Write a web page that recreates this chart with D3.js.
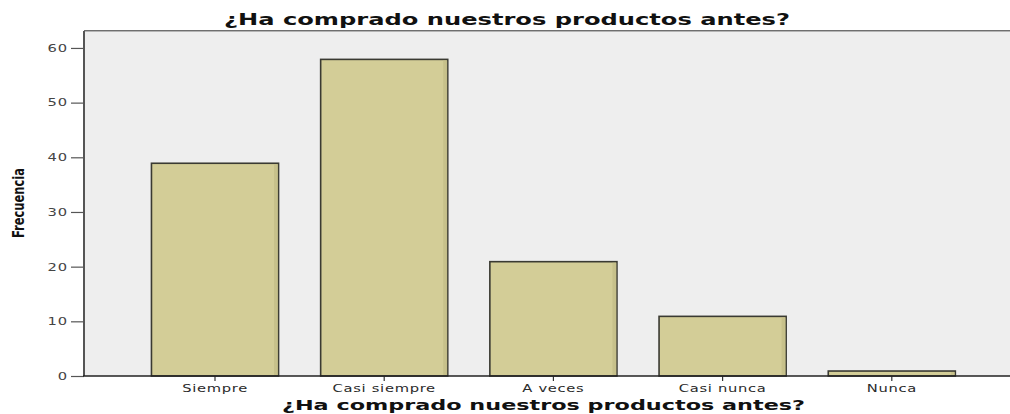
<!DOCTYPE html>
<html>
<head>
<meta charset="utf-8">
<script src="https://cdn.jsdelivr.net/npm/d3@7"></script>
<style>
  html, body { margin: 0; padding: 0; background: #eeeeee; overflow: hidden; }
  svg { display: block; }
</style>
</head>
<body>
<svg id="chart" width="1010" height="414"></svg>
<script>
const categories = ["Siempre", "Casi siempre", "A veces", "Casi nunca", "Nunca"];
const frecuencia = [39, 58, 21, 11, 1];
const yTicks = [0, 10, 20, 30, 40, 50, 60];
const titleText = "¿Ha comprado nuestros productos antes?";
const yLabel = "Frecuencia";

const svg = d3.select("#chart");
const W = 1010, H = 414;
const plot = { left: 84, right: W, top: 31, bottom: 376 };
const stretch = 1.4; // horizontal stretch of small labels

const x = d3.scaleBand()
  .domain(categories)
  .range([130.4, 976.4])
  .paddingInner(0.243)
  .paddingOuter(0.1215);

const y = d3.scaleLinear()
  .domain([0, 63.1])
  .range([plot.bottom, plot.top]);

// page background (white outside the plot)
svg.append("rect").attr("x", 0).attr("y", 0).attr("width", W).attr("height", H).attr("fill", "#ffffff");

// plot background
svg.append("rect")
  .attr("x", plot.left).attr("y", plot.top)
  .attr("width", plot.right - plot.left).attr("height", plot.bottom - plot.top)
  .attr("fill", "#eeeeee");

// top border (double gray line)
svg.append("line")
  .attr("x1", plot.left).attr("x2", plot.right)
  .attr("y1", plot.top - 0.5).attr("y2", plot.top - 0.5)
  .attr("stroke", "#6e6e6e").attr("stroke-width", 1);
svg.append("line")
  .attr("x1", plot.left).attr("x2", plot.right)
  .attr("y1", plot.top + 0.5).attr("y2", plot.top + 0.5)
  .attr("stroke", "#b4b4b4").attr("stroke-width", 1);

const barData = categories.map((c, i) => ({ c, v: frecuencia[i] }));

// bars
svg.append("g").selectAll("rect")
  .data(barData)
  .join("rect")
  .attr("x", d => x(d.c) + 0.5)
  .attr("y", d => y(d.v) + 0.5)
  .attr("width", x.bandwidth() - 1)
  .attr("height", d => y(0) - y(d.v) - 0.5)
  .attr("fill", "#d3cd97")
  .attr("stroke", "#3a3a32")
  .attr("stroke-width", 1.6);

// subtle darker shading along right inner edge of bars
svg.append("g").selectAll("rect")
  .data(barData)
  .join("rect")
  .attr("x", d => x(d.c) + x.bandwidth() - 5)
  .attr("y", d => y(d.v) + 1.5)
  .attr("width", 4)
  .attr("height", d => Math.max(0, y(0) - y(d.v) - 2.5))
  .attr("fill", "#c2bc86")
  .attr("opacity", 0.7);

// y axis
const yAxis = d3.axisLeft(y).tickValues(yTicks).tickSize(13).tickPadding(3).tickFormat(d3.format("d"));
const gy = svg.append("g").attr("transform", `translate(${plot.left},0)`).call(yAxis);
gy.select(".domain").remove();
gy.selectAll(".tick line").attr("stroke", "#555").attr("stroke-width", 1.2);
gy.selectAll(".tick text")
  .attr("fill", "#444")
  .attr("x", -16 / stretch)
  .attr("transform", `scale(${stretch},1)`)
  .style("font-family", "'DejaVu Sans', Verdana, sans-serif")
  .style("font-size", "10.5px")
  .style("letter-spacing", "0.6px");
svg.append("line")
  .attr("x1", plot.left).attr("x2", plot.left)
  .attr("y1", plot.top).attr("y2", plot.bottom)
  .attr("stroke", "#555").attr("stroke-width", 2);

// x axis
const xAxis = d3.axisBottom(x).tickSize(5).tickPadding(4);
const gx = svg.append("g").attr("transform", `translate(0,${plot.bottom})`).call(xAxis);
gx.select(".domain").remove();
gx.selectAll(".tick line").attr("stroke", "#333").attr("stroke-width", 1.2);
gx.selectAll(".tick text")
  .attr("fill", "#2a2a2a")
  .attr("transform", `scale(${stretch},1)`)
  .style("font-family", "'DejaVu Sans', Verdana, sans-serif")
  .style("font-size", "10.5px")
  .style("letter-spacing", "0.5px");
svg.append("line")
  .attr("x1", plot.left - 1).attr("x2", plot.right)
  .attr("y1", plot.bottom).attr("y2", plot.bottom)
  .attr("stroke", "#222").attr("stroke-width", 1.5);

// title
svg.append("text")
  .attr("x", 224).attr("y", 25)
  .attr("textLength", 566).attr("lengthAdjust", "spacingAndGlyphs")
  .attr("fill", "#111")
  .style("font-family", "'DejaVu Sans', Verdana, sans-serif")
  .style("font-weight", "bold")
  .style("font-size", "15.5px")
  .text(titleText);

// x axis title
svg.append("text")
  .attr("x", 282).attr("y", 410)
  .attr("textLength", 523).attr("lengthAdjust", "spacingAndGlyphs")
  .attr("fill", "#111")
  .style("font-family", "'DejaVu Sans', Verdana, sans-serif")
  .style("font-weight", "bold")
  .style("font-size", "14px")
  .text(titleText);

// y axis title
svg.append("text")
  .attr("transform", "translate(24,203) rotate(-90)")
  .attr("text-anchor", "middle")
  .attr("textLength", 70).attr("lengthAdjust", "spacingAndGlyphs")
  .attr("fill", "#111")
  .style("font-family", "'Liberation Sans Narrow', 'DejaVu Sans Condensed', sans-serif")
  .style("font-weight", "bold")
  .style("font-size", "15px")
  .text(yLabel);
</script>
</body>
</html>
